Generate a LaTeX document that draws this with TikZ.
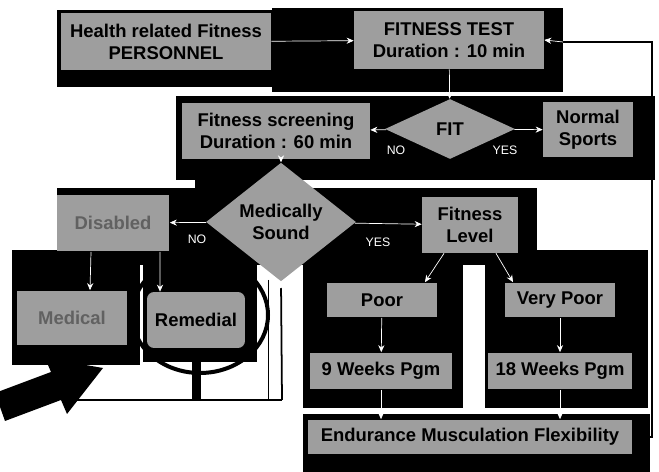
\documentclass[tikz,border=0pt]{standalone}
\usepackage{fontspec}
\setsansfont{Liberation Sans}
\usetikzlibrary{shapes.geometric,arrows.meta}

\tikzset{
  box/.style={rectangle, fill=black!38, inner sep=0pt, align=center,
    font=\sffamily\bfseries\fontsize{10.5}{12.5}\selectfont},
  decision/.style={diamond, fill=black!38, inner sep=0pt, align=center,
    font=\sffamily\bfseries\fontsize{10.5}{12.5}\selectfont},
  flow/.style={white, thin, -{Stealth[length=4pt,width=3.5pt]}},
  loopline/.style={black, line width=1pt},
  branch/.style={white, font=\sffamily\fontsize{7}{8}\selectfont},
}

\begin{document}
\begin{tikzpicture}[x=0.02cm, y=-0.02cm]
  \useasboundingbox (0,0) rectangle (659,472);

  % black shadows behind the boxes
  \fill[black] (57,10) rectangle (275,87);
  \fill[black] (272,8) rectangle (563,92);
  \fill[black] (176,96) rectangle (655,180);
  \fill[black] (195,178) rectangle (300,190);
  \fill[black] (57,188) rectangle (537,265);
  \fill[black] (12,250) rectangle (140,365);
  \fill[black] (143,262) rectangle (257,362);
  \draw[black, line width=0.08cm] (200,315) ellipse (68 and 58);
  \draw[black, thin] (268,280) -- (268,400);
  \fill[black] (303,262) rectangle (463,408);
  \fill[black] (485,250) rectangle (648,408);
  \fill[black] (303,414) rectangle (650,472);

  % big arrow at the lower left
  \fill[black] (-5,393) -- (51,372) -- (45,358) -- (103,368)
    -- (67,414) -- (61,400) -- (5,421) -- cycle;

  % the boxes
  \node[box, minimum width=4.2cm, minimum height=1.14cm] (health) at (166,42)
    {Health related Fitness\\PERSONNEL};
  \node[box, minimum width=3.8cm, minimum height=1.16cm] (test) at (449,40)
    {FITNESS TEST\\Duration : 10 min};
  \node[decision, minimum width=2.6cm, minimum height=1.2cm] (fit) at (450,129) {FIT};
  \node[box, minimum width=3.76cm, minimum height=1.14cm] (screen) at (276,131)
    {Fitness screening\\Duration : 60 min};
  \node[box, minimum width=1.8cm, minimum height=1.1cm] (normal) at (588,130)
    {Normal\\Sports};
  \node[decision, minimum width=3.0cm, minimum height=1.56cm] (med) at (281,222)
    {Medically\\Sound};
  \node[box, minimum width=2.26cm, minimum height=1.14cm, text=black!62] (disabled)
    at (113,223) {Disabled};
  \node[box, minimum width=1.92cm, minimum height=1.12cm] (level) at (470,225)
    {Fitness\\Level};
  \node[box, minimum width=2.22cm, minimum height=1.1cm, text=black!62] (medical)
    at (72,318) {Medical};
  \node[box, rounded corners=4pt, minimum width=1.96cm, minimum height=1.12cm]
    (remedial) at (196,320) {Remedial};
  \node[box, minimum width=2.2cm, minimum height=0.7cm] (poor) at (382,300) {Poor};
  \node[box, minimum width=2.2cm, minimum height=0.7cm] (vpoor) at (560,300) {Very Poor};
  \node[box, minimum width=2.84cm, minimum height=0.74cm] (pgm9) at (381,371)
    {9 Weeks Pgm};
  \node[box, minimum width=2.9cm, minimum height=0.74cm] (pgm18) at (560,371)
    {18 Weeks Pgm};
  \node[box, minimum width=6.5cm, minimum height=0.7cm] (endure) at (470,437)
    {Endurance Musculation Flexibility};

  % connectors
  \draw[flow] (health) -- (test);
  \draw[flow] (test) -- (fit);
  \draw[flow] (fit) -- (screen);
  \draw[flow] (fit) -- (normal);
  \node[branch] (fitno) at (396,150) {NO};
  \node[branch] (fityes) at (505,150) {YES};
  \draw[flow] (screen.south -| med.north) -- (med.north);
  \draw[flow] (med) -- (disabled);
  \draw[flow] (med) -- (level);
  \node[branch] (medno) at (197,239) {NO};
  \node[branch] (medyes) at (378,242) {YES};
  \draw[flow] ([xshift=-0.44cm]disabled.south) -- ([xshift=0.36cm]medical.north);
  \draw[flow] ([xshift=0.94cm]disabled.south) -- ([xshift=-0.72cm]remedial.north);
  \draw[flow] ([xshift=-0.52cm]level.south) -- ([xshift=0.86cm]poor.north);
  \draw[flow] ([xshift=0.52cm]level.south) -- ([xshift=-0.94cm]vpoor.north);
  \draw[flow] (poor) -- (pgm9);
  \draw[flow] (vpoor) -- (pgm18);
  \draw[flow] (pgm9.south) -- (pgm9.south |- endure.north);
  \draw[flow] (pgm18.south) -- (pgm18.south |- endure.north);

  % loop back to the fitness test
  \coordinate (loopbot) at (652,437);
  \coordinate (looptop) at (652,42);
  \coordinate (loopin) at (563,42);
  \draw[loopline] (endure.east) -- (loopbot) -- (looptop) -- (loopin);
  \draw[flow] (loopin) -- (test.east);

  % back to the medical check
  \coordinate (fbright) at (282,400);
  \draw[loopline] (medical.south) -- (medical.south |- fbright) -- (fbright);
  \draw[black, line width=0.18cm] (remedial.south) -- (remedial.south |- fbright);
  \draw[loopline, -{Stealth[length=5pt,width=4pt,color=white]}] (fbright) -- (med.south);

\end{tikzpicture}
\end{document}
